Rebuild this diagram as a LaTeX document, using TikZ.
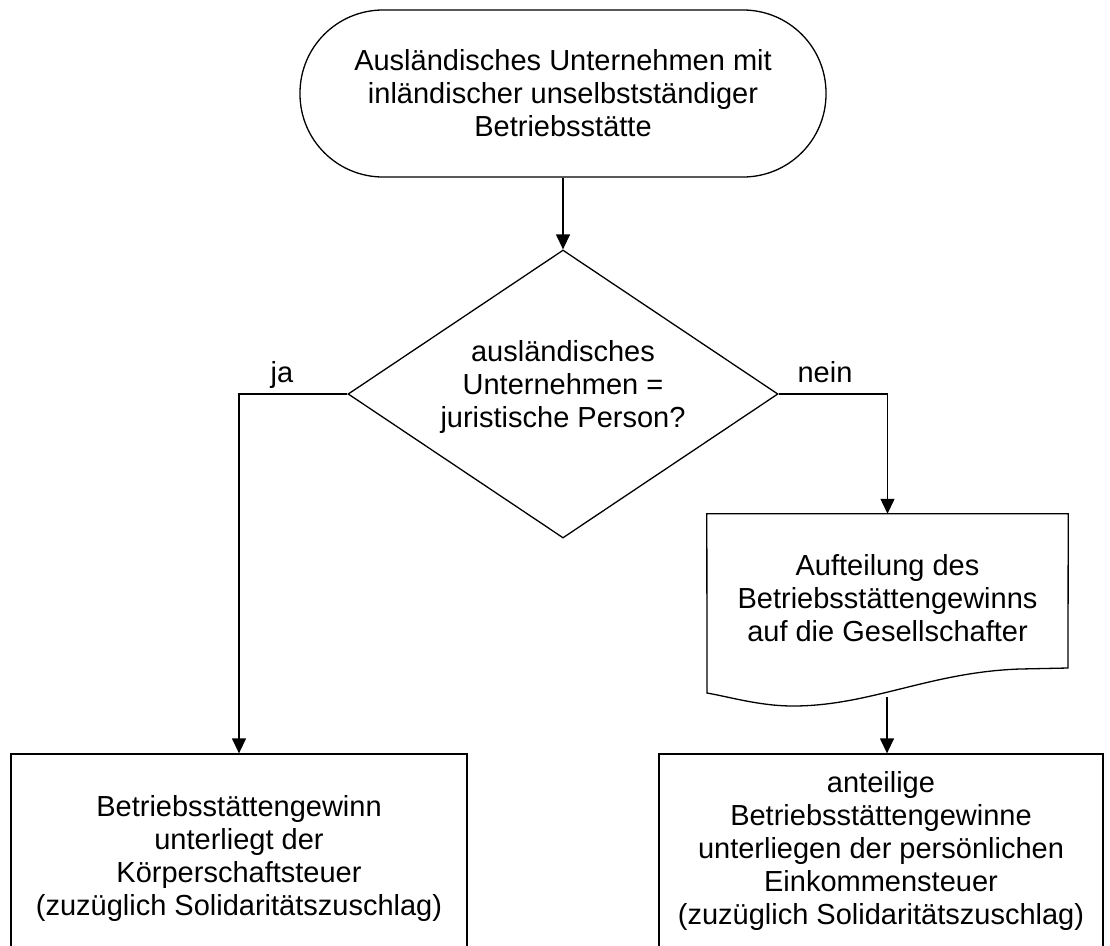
\documentclass[tikz,border=0pt]{standalone}
\usepackage{fontspec}
\setmainfont{Liberation Sans}
\usetikzlibrary{arrows.meta,shapes.geometric}
\begin{document}
\begin{tikzpicture}[x=1pt,y=-1pt,
  every node/.style={font=\fontsize{29}{33}\selectfont, align=center, inner sep=0pt},
  line/.style={line width=1.3pt},
  arr/.style={line width=1.3pt, -{Triangle[width=14pt,length=15pt]}},
  termbox/.style={draw, line width=1.3pt, rectangle, rounded corners=83pt, minimum width=526pt, minimum height=167pt},
  decbox/.style={draw, line width=1.3pt, diamond, minimum width=430pt, minimum height=288pt},
  procbox/.style={draw, line width=1.3pt, rectangle}
]
\useasboundingbox (0,0) rectangle (1110,945);
\node[termbox] (term) at (563,93.5) {Ausländisches Unternehmen mit\\inländischer unselbstständiger\\Betriebsstätte};
\node[decbox] (dia) at (563,394) {};
\node (diatext) at (563,387) {ausländisches\\Unternehmen =\\juristische Person?};
\node[minimum width=361pt, minimum height=168pt] (doc) at (887.5,598) {Aufteilung des\\Betriebsstättengewinns\\auf die Gesellschafter};
\draw[line] (doc.north west) -- (doc.north east) -- (1068,668) -- (1020,669)
  .. controls (930,672) and (870,706) .. (793,706)
  .. controls (760,706) and (730,697) .. (707,693) -- cycle;
\coordinate (docbot) at (887,697);
\node[procbox, minimum width=456pt, minimum height=208pt] (left) at (239,858) {Betriebsstättengewinn\\unterliegt der\\Körperschaftsteuer\\(zuzüglich Solidaritätszuschlag)};
\node[procbox, minimum width=444pt, minimum height=194pt] (right) at (881,851) {anteilige\\Betriebsstättengewinne\\unterliegen der persönlichen\\Einkommensteuer\\(zuzüglich Solidaritätszuschlag)};
\node[anchor=base] (ja) at (282,382) {ja};
\node[anchor=base] (nein) at (825,382) {nein};
\draw[arr] (term.south) -- (dia.north);
\draw[arr] (dia.west) -| (left.north);
\draw[arr] (dia.east) -| (doc.north);
\draw[arr] (docbot) -- (docbot |- right.north);
\end{tikzpicture}
\end{document}
